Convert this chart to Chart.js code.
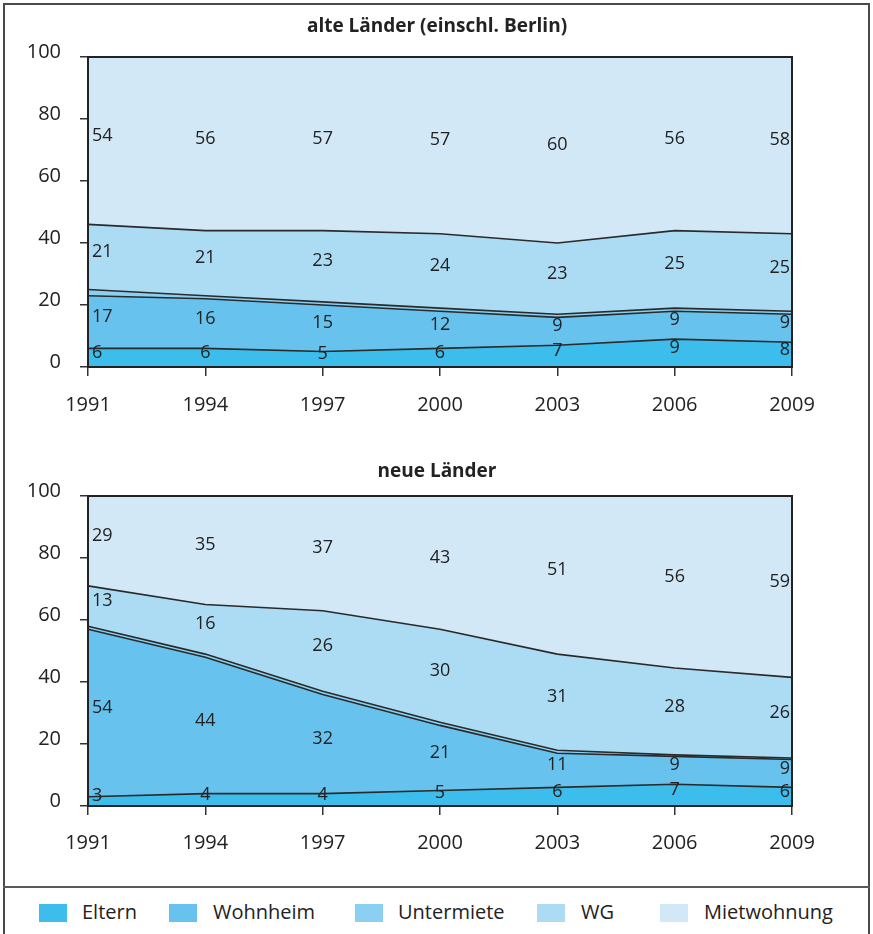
<!DOCTYPE html>
<html><head><meta charset="utf-8">
<script src="https://cdn.jsdelivr.net/npm/chart.js@4.4.1/dist/chart.umd.min.js"></script>
<style>
html,body{margin:0;padding:0;background:#fff;}
#wrap{position:relative;width:873px;height:934px;overflow:hidden;font-family:"Open Sans",sans-serif;color:#222;}
#frame{position:absolute;left:3px;top:3px;width:867px;height:960px;border:2px solid #4a4a4a;box-sizing:border-box;}
#sep{position:absolute;left:3px;width:867px;top:886px;height:0;border-top:2px solid #5a5a5a;}
canvas{position:absolute;left:0;}
.lg{position:absolute;top:904px;width:28px;height:18px;}
.lt{position:absolute;top:899px;font-size:20px;line-height:26px;color:#222;white-space:nowrap;}
</style></head>
<body><div id="wrap">
<div id="frame"></div>
<canvas id="c1" width="873" height="440" style="top:0"></canvas>
<canvas id="c2" width="873" height="447" style="top:440px"></canvas>
<div id="sep"></div>
<div id="legend"></div>
</div>
<script>
const years = ['1991','1994','1997','2000','2003','2006','2009'];
const seriesNames = ['Eltern','Wohnheim','Untermiete','WG','Mietwohnung'];
const seriesColors = ['#3dbdec','#67c3ee','#8bd0f0','#acdbf4','#d2e8f6'];
const titleAlt = 'alte Länder (einschl. Berlin)';
const titleNeu = 'neue Länder';
const altEltern = [6,6,5,6,7,9,8];
const altWohnheim = [17,16,15,12,9,9,9];
const altUntermiete = [2,1,1,1,1,1,1];
const altWG = [21,21,23,24,23,25,25];
const altMiet = [54,56,57,57,60,56,58];
const neuEltern = [3,4,4,5,6,7,6];
const neuWohnheim = [54,44,32,21,11,9,9];
const neuUntermiete = [1,1,1,1,1,0.5,0.5];
const neuWG = [13,16,26,30,31,28,26];
const neuMiet = [29,35,37,43,51,56,59];
const showLabel = [true,true,false,true,true];

// legend (HTML)
const legendSquareX = [39,169,355,537,660];
const legendTextX = [82,213,398,581,704];
const lg = document.getElementById('legend');
seriesNames.forEach((n,i)=>{
  const s=document.createElement('div'); s.className='lg'; s.style.left=legendSquareX[i]+'px'; s.style.background=seriesColors[i]; lg.appendChild(s);
  const t=document.createElement('div'); t.className='lt'; t.style.left=legendTextX[i]+'px'; t.textContent=n; lg.appendChild(t);
});

const boxPlugin = {
  id:'boxAndLabels',
  afterDatasetsDraw(chart, args, opts){
    const ctx=chart.ctx, a=chart.chartArea, ys=chart.scales.y, xs=chart.scales.x;
    ctx.save();
    // value labels
    ctx.font='18px "Open Sans"';
    ctx.fillStyle='#222';
    ctx.textBaseline='middle';
    const n=chart.data.labels.length;
    const cum=new Array(n).fill(0);
    chart.data.datasets.forEach((ds,di)=>{
      ds.data.forEach((v,i)=>{
        const lo=cum[i], hi=Math.min(100,cum[i]+v);
        cum[i]+=v;
        if(!showLabel[di]) return;
        const y=(ys.getPixelForValue(lo)+ys.getPixelForValue(hi))/2-5;
        let x=xs.getPixelForValue(i);
        if(i===0){ctx.textAlign='left';x+=4;}
        else if(i===n-1){ctx.textAlign='right';x-=2;}
        else ctx.textAlign='center';
        ctx.fillText(String(v),x,y);
      });
    });
    ctx.strokeStyle='#222'; ctx.lineWidth=2;
    ctx.strokeRect(a.left,a.top,a.right-a.left,a.bottom-a.top);
    // title
    ctx.font='bold 19px "Open Sans"';
    ctx.textAlign='center';
    ctx.fillText(opts.text, 437, opts.y);
    ctx.restore();
  }
};

function makeChart(id, title, titleY, series, canvasH, plotTop, plotBottom, tickPad){
  const datasets = series.map((d,i)=>({
    label: seriesNames[i], data: d,
    backgroundColor: seriesColors[i], borderColor:'#2a2a2a', borderWidth: i===4 ? 0 : 1.6,
    fill: i===0 ? 'origin' : '-1', pointRadius:0, tension:0
  }));
  return new Chart(document.getElementById(id), {
    type:'line',
    data:{labels:years, datasets},
    plugins:[boxPlugin],
    options:{
      responsive:false, animation:false,
      layout:{padding:{left:0,right:81,top:plotTop,bottom:0}},
      plugins:{
        legend:{display:false}, tooltip:{enabled:false}, title:{display:false},
        boxAndLabels:{text:title, y:titleY}
      },
      scales:{
        x:{
          offset:false,
          grid:{drawOnChartArea:false,drawTicks:true,tickLength:9,color:'#333',lineWidth:1.5},
          border:{display:true,color:'#222',width:2},
          ticks:{color:'#222',font:{family:'Open Sans',size:20},padding:tickPad,maxRotation:0,autoSkip:false},
          afterFit(s){ s.height = canvasH - plotBottom; }
        },
        y:{
          stacked:true, min:0, max:100,
          grid:{drawOnChartArea:false,drawTicks:true,tickLength:8,color:'#333',lineWidth:1.5},
          border:{display:true,color:'#222',width:2},
          ticks:{stepSize:20,color:'#222',font:{family:'Open Sans',size:20},padding:19,labelOffset:-5},
          afterFit(s){ s.width = 88; }
        }
      }
    }
  });
}

makeChart('c1', titleAlt, 27, [altEltern,altWohnheim,altUntermiete,altWG,altMiet], 440, 57, 367, 17);
makeChart('c2', titleNeu, 32, [neuEltern,neuWohnheim,neuUntermiete,neuWG,neuMiet], 447, 56, 366, 16);
</script>
</body></html>
